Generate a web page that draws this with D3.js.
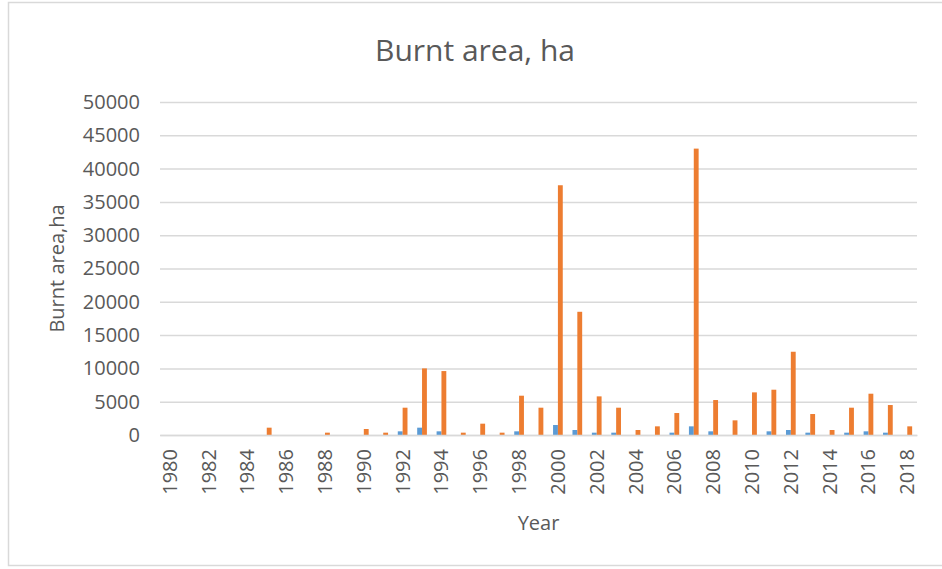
<!DOCTYPE html>
<html>
<head>
<meta charset="utf-8">
<script src="https://cdn.jsdelivr.net/npm/d3@7"></script>
<style>
  body { margin: 0; background: #fff; }
  text { font-family: "Open Sans", sans-serif; fill: #595959; }
</style>
</head>
<body>
<div id="chart"></div>
<script>
// dados
const years = d3.range(1980, 2019);
const seriesNames = ['blue', 'orange'];
const blueValues = [
  0, 0, 0, 0, 0, 0, 0, 0, 0, 0,
  0, 0, 550, 1100, 550, 0, 0, 0, 550, 0,
  1500, 750, 350, 350, 0, 0, 350, 1300, 550, 0,
  0, 550, 750, 350, 0, 350, 550, 350, 0
];
const orangeValues = [
  0, 0, 0, 0, 0, 1100, 0, 0, 350, 0,
  900, 350, 4100, 10000, 9600, 350, 1700, 350, 5900, 4100,
  37500, 18500, 5800, 4100, 750, 1300, 3300, 43000, 5250, 2200,
  6400, 6800, 12500, 3150, 750, 4100, 6200, 4500, 1300
];
const yTicks = [0, 5000, 10000, 15000, 20000, 25000, 30000, 35000, 40000, 45000, 50000];
const xLabels = years.filter(y => y % 2 === 0);

const colors = { blue: '#5B9BD5', orange: '#ED7D31' };

const W = 942, H = 569;
const margin = { top: 102, right: 25, bottom: 134, left: 160 };
const width = W - margin.left - margin.right;
const height = H - margin.top - margin.bottom;

const data = years.map((y, i) => ({ year: y, blue: blueValues[i], orange: orangeValues[i] }));

const svg = d3.select('#chart').append('svg')
  .attr('width', W)
  .attr('height', H);

// moldura do gráfico
svg.append('rect')
  .attr('x', 8.5).attr('y', 2.5)
  .attr('width', W + 10).attr('height', 563)
  .attr('fill', 'none')
  .attr('stroke', '#d9d9d9')
  .attr('stroke-width', 1.5);

const g = svg.append('g')
  .attr('transform', `translate(${margin.left},${margin.top})`);

// escalas
const x = d3.scaleBand()
  .domain(years)
  .range([0, width])
  .paddingInner(0.5)
  .paddingOuter(0.25);

const x1 = d3.scaleBand()
  .domain(seriesNames)
  .range([0, x.bandwidth()]);

const y = d3.scaleLinear()
  .domain([0, 50000])
  .range([height, 0]);

// grid horizontal
const yAxisG = g.append('g')
  .call(d3.axisLeft(y).tickValues(yTicks).tickSize(-width).tickPadding(20).tickFormat(d3.format('d')));
yAxisG.select('.domain').remove();
yAxisG.selectAll('line').attr('stroke', '#d9d9d9').attr('stroke-width', 1.5);
yAxisG.selectAll('text')
  .style('font-size', '20px')
  .style('fill', '#595959');

// barras
const groups = g.selectAll('g.year')
  .data(data)
  .enter()
  .append('g')
  .attr('class', 'year')
  .attr('transform', d => `translate(${x(d.year)},0)`);

groups.selectAll('rect')
  .data(d => seriesNames.map(k => ({ key: k, value: d[k] })))
  .enter()
  .append('rect')
  .attr('x', d => x1(d.key))
  .attr('width', x1.bandwidth())
  .attr('y', d => y(d.value))
  .attr('height', d => height - y(d.value))
  .attr('fill', d => colors[d.key]);

// eixo X
const xAxisG = g.append('g')
  .attr('transform', `translate(0,${height})`)
  .call(d3.axisBottom(x).tickValues(xLabels).tickSize(0));
xAxisG.select('.domain').attr('stroke', '#d9d9d9').attr('stroke-width', 1.5);
xAxisG.selectAll('text')
  .style('font-size', '20px')
  .style('fill', '#595959')
  .attr('text-anchor', 'end')
  .attr('transform', 'rotate(-90)')
  .attr('x', -14)
  .attr('y', 0)
  .attr('dy', '0.35em');

// títulos
svg.append('text')
  .attr('x', 475)
  .attr('y', 61)
  .attr('text-anchor', 'middle')
  .style('font-size', '30px')
  .text('Burnt area, ha');

svg.append('text')
  .attr('transform', `translate(64,${margin.top + height / 2}) rotate(-90)`)
  .attr('text-anchor', 'middle')
  .style('font-size', '20px')
  .text('Burnt area,ha');

svg.append('text')
  .attr('x', margin.left + width / 2)
  .attr('y', 530)
  .attr('text-anchor', 'middle')
  .style('font-size', '20px')
  .text('Year');
</script>
</body>
</html>
